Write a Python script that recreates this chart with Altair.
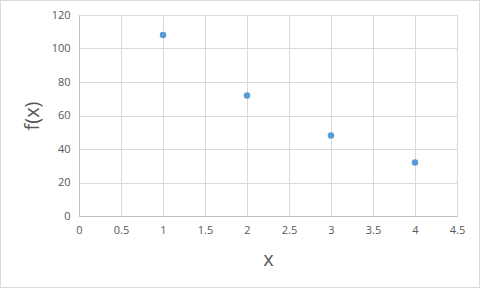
import altair as alt
import pandas as pd

x_vals = [1, 2, 3, 4]
y_vals = [108, 72, 48, 32]
x_ticks = [0, 0.5, 1, 1.5, 2, 2.5, 3, 3.5, 4, 4.5]
y_ticks = [0, 20, 40, 60, 80, 100, 120]

df = pd.DataFrame({"x": x_vals, "fx": y_vals})

FONT = "Open Sans"

points = alt.Chart(df).mark_circle(size=42, color="#5b9bd5", opacity=1).encode(
    x=alt.X("x:Q", scale=alt.Scale(domain=[0, 4.5], nice=False),
            axis=alt.Axis(values=x_ticks, title="x", grid=True, ticks=False,
                          labelPadding=8, titlePadding=14, format="~g",
                          labelFlush=False)),
    y=alt.Y("fx:Q", scale=alt.Scale(domain=[0, 120], nice=False),
            axis=alt.Axis(values=y_ticks, title="f(x)", grid=True, ticks=False,
                          labelPadding=9, titlePadding=9, labelFlush=False)),
)

frame = alt.Chart(df).mark_rect(fill=None, stroke="#d9d9d9", strokeWidth=1).encode(
    x=alt.value(-78.5), x2=alt.value(400.5), y=alt.value(-14.5), y2=alt.value(272.5)
)

chart = alt.layer(frame, points).properties(
    width=378, height=201,
    padding={"left": 79, "top": 15, "right": 23, "bottom": 73},
    autosize=alt.AutoSizeParams(type="none"),
    background="white",
).configure_view(stroke=None).configure_axis(
    domain=True,
    domainColor="#bfbfbf",
    domainWidth=1,
    gridColor="#d9d9d9",
    gridWidth=1,
    labelFont=FONT,
    labelFontSize=11,
    labelColor="#595959",
    titleFont=FONT,
    titleFontSize=20,
    titleFontWeight="normal",
    titleColor="#595959",
)

chart.save("out.html", embed_options={"renderer": "svg", "actions": False})
